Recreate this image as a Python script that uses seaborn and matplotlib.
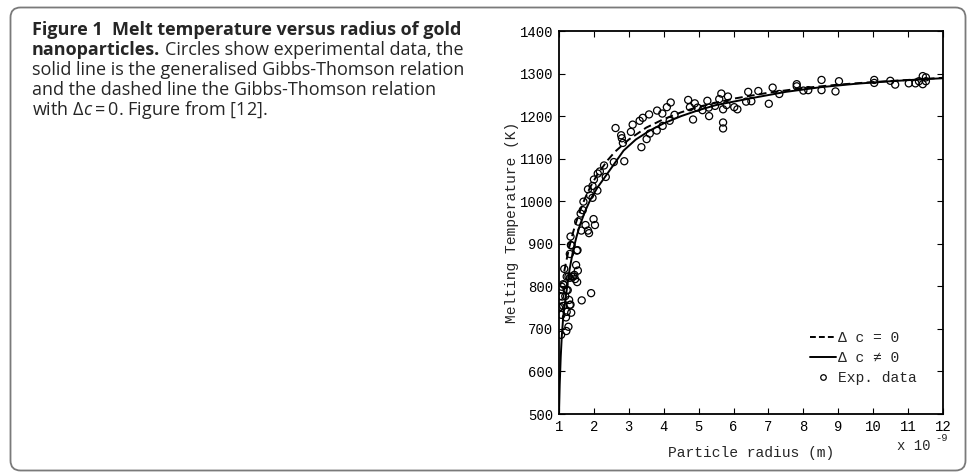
import numpy as np
import pandas as pd
import matplotlib
matplotlib.use("Agg")
import matplotlib.pyplot as plt
import seaborn as sns
from matplotlib.lines import Line2D
from matplotlib.patches import FancyBboxPatch
from matplotlib.transforms import IdentityTransform

# ---------------- data (radius in units of 1e-9 m, temperature in K) -------------
exp_radius = [1.00, 1.03, 1.04, 1.06, 1.07, 1.08, 1.09, 1.12, 1.12, 1.15, 1.15, 1.18, 1.20,
              1.21, 1.22, 1.22, 1.22, 1.25, 1.27, 1.27, 1.29, 1.31, 1.31, 1.31, 1.33, 1.33,
              1.34, 1.35, 1.36, 1.36, 1.41, 1.44, 1.46, 1.49, 1.51, 1.52, 1.53, 1.54, 1.55,
              1.62, 1.64, 1.65, 1.68, 1.70, 1.76, 1.83, 1.83, 1.86, 1.89, 1.92, 1.96, 1.96,
              1.99, 2.00, 2.03, 2.10, 2.11, 2.17, 2.29, 2.34, 2.57, 2.62, 2.78, 2.80, 2.83,
              2.87, 3.06, 3.11, 3.31, 3.36, 3.40, 3.51, 3.58, 3.60, 3.80, 3.81, 3.96, 3.97,
              4.09, 4.17, 4.20, 4.31, 4.70, 4.75, 4.84, 4.89, 4.97, 5.11, 5.25, 5.29, 5.30,
              5.47, 5.59, 5.65, 5.70, 5.70, 5.70, 5.80, 5.84, 6.02, 6.11, 6.36, 6.42, 6.51,
              6.71, 7.01, 7.12, 7.31, 7.81, 7.81, 8.00, 8.14, 8.52, 8.52, 8.92, 9.02, 10.03,
              10.03, 10.49, 10.63, 11.02, 11.21, 11.31, 11.42, 11.42, 11.51, 11.51]
exp_temp = [750, 777, 752, 686, 733, 799, 776, 805, 754, 841, 803, 777, 727,
            695, 740, 823, 791, 791, 705, 823, 768, 820, 876, 756, 917, 757,
            897, 738, 896, 823, 823, 827, 817, 850, 884, 810, 885, 837, 952,
            971, 931, 767, 979, 999, 944, 1028, 931, 925, 1014, 784, 1036, 1008,
            958, 1051, 944, 1025, 1065, 1070, 1084, 1057, 1092, 1172, 1155, 1148, 1137,
            1094, 1163, 1180, 1189, 1127, 1196, 1146, 1204, 1159, 1166, 1213, 1206, 1177,
            1221, 1189, 1232, 1203, 1238, 1221, 1192, 1230, 1220, 1214, 1236, 1220, 1200,
            1224, 1240, 1253, 1216, 1185, 1171, 1226, 1246, 1221, 1216, 1234, 1257, 1235,
            1259, 1229, 1267, 1252, 1275, 1270, 1260, 1261, 1285, 1261, 1258, 1282, 1285,
            1278, 1283, 1274, 1277, 1277, 1282, 1294, 1275, 1291, 1282]

# solid line: generalised Gibbs-Thomson (delta c != 0)
gen_radius = [1.00, 1.02, 1.05, 1.08, 1.12, 1.17, 1.22, 1.30, 1.40, 1.50, 1.60, 1.75,
              1.90, 2.10, 2.30, 2.55, 2.85, 3.20, 3.60, 4.00, 4.50, 5.00, 5.50, 6.50,
              7.50, 8.50, 9.50, 10.50, 11.50, 12.00]
gen_temp = [500, 568, 635, 683, 727, 762, 791, 838, 883, 916, 944, 977,
            1004, 1032, 1055, 1084, 1119, 1145, 1166, 1183, 1200, 1214, 1226, 1242,
            1257, 1268, 1276, 1282, 1287, 1289]

# dashed line: Gibbs-Thomson (delta c = 0)
gt_radius = [1.15, 1.20, 1.30, 1.40, 1.50, 1.60, 1.75, 1.90, 2.10, 2.40, 2.60, 3.00,
             3.50, 4.00, 4.50, 5.00, 6.00, 7.00, 8.00, 9.00, 10.00, 11.00, 12.00]
gt_temp = [835, 856, 894, 926, 953, 977, 1008, 1034, 1063, 1097, 1116, 1145,
           1173, 1193, 1209, 1222, 1241, 1255, 1266, 1274, 1280, 1285, 1290]

x_ticks = list(range(1, 13))
y_ticks = list(range(500, 1500, 100))

caption_bold_1 = "Figure 1  Melt temperature versus radius of gold"
caption_bold_2 = "nanoparticles."
caption_rest_2 = "Circles show experimental data, the"
caption_3 = "solid line is the generalised Gibbs-Thomson relation"
caption_4 = "and the dashed line the Gibbs-Thomson relation"
caption_5 = r"with $\Delta c = 0$. Figure from [12]."

# ---------------- styling ----------------
sns.set_theme(style="white")
mono = ["Liberation Mono", "DejaVu Sans Mono"]
cap_font = ["Open Sans", "DejaVu Sans"]
plt.rcParams["font.family"] = mono
plt.rcParams["mathtext.fontset"] = "custom"
plt.rcParams["mathtext.rm"] = "Open Sans"
plt.rcParams["mathtext.it"] = "Open Sans:italic"

W, H = 968, 473
fig = plt.figure(figsize=(W / 100, H / 100), dpi=100)
fig.patch.set_facecolor("white")

ax = fig.add_axes([559 / W, 1 - 414 / H, (943 - 559) / W, (414 - 31) / H])

df_exp = pd.DataFrame({"r": exp_radius, "T": exp_temp})
df_gen = pd.DataFrame({"r": gen_radius, "T": gen_temp})
df_gt = pd.DataFrame({"r": gt_radius, "T": gt_temp})

sns.lineplot(data=df_gt, x="r", y="T", ax=ax, color="black", lw=1.4,
             linestyle=(0, (4, 2.2)), estimator=None, sort=True)
sns.lineplot(data=df_gen, x="r", y="T", ax=ax, color="black", lw=1.4,
             estimator=None, sort=True)
sns.scatterplot(data=df_exp, x="r", y="T", ax=ax, marker="o", s=26,
                facecolor="none", edgecolor="black", linewidth=0.9, zorder=3)

ax.set_xlim(1, 12)
ax.set_ylim(500, 1400)
ax.set_xticks(x_ticks)
ax.set_yticks(y_ticks)
ax.set_xticklabels([str(v) for v in x_ticks], fontsize=10, family=mono)
ax.set_yticklabels([str(v) for v in y_ticks], fontsize=10, family=mono)
ax.tick_params(direction="in", length=4.5, width=0.8, top=True, right=True,
               bottom=True, left=True, colors="black", pad=4)
for sp in ax.spines.values():
    sp.set_visible(True)
    sp.set_color("black")
    sp.set_linewidth(1.3)

ax.set_xlabel("Particle radius (m)", fontsize=10.5, family=mono, labelpad=9)
ax.set_ylabel("Melting Temperature (K)", fontsize=10.5, family=mono, labelpad=0.5)

# multiplier text
fig.text(897 / W, 1 - 450 / H, "x 10", fontsize=10, family=mono, ha="left", va="baseline")
fig.text(935 / W, 1 - 441 / H, "-9", fontsize=7.5, family=mono, ha="left", va="baseline")

handles = [Line2D([], [], color="black", lw=1.4, linestyle=(0, (3, 1.6))),
           Line2D([], [], color="black", lw=1.4),
           Line2D([], [], color="black", lw=0, marker="o", markersize=4,
                  markerfacecolor="none", markeredgewidth=0.9)]
labels = ["\u0394 c = 0", "\u0394 c \u2260 0", "Exp. data"]
leg = ax.legend(handles, labels, loc="upper left",
                bbox_to_anchor=((810 - 559) / 384, (414 - 331) / 383),
                frameon=False, borderpad=0, borderaxespad=0, handlelength=1.75,
                handletextpad=0.15, labelspacing=0.42,
                prop={"family": mono, "size": 10.5})

# ---------------- caption ----------------
x0 = 32 / W
fs_cap = 13.0
fig.text(x0, 1 - 35 / H, caption_bold_1, fontsize=fs_cap, family=cap_font,
         weight="bold", va="baseline", ha="left")
tb = fig.text(x0, 1 - 55 / H, caption_bold_2, fontsize=fs_cap, family=cap_font,
              weight="bold", va="baseline", ha="left")
renderer = fig.canvas.get_renderer()
bb = tb.get_window_extent(renderer)
fig.text((bb.x1 + 5) / W, 1 - 55 / H, caption_rest_2, fontsize=fs_cap,
         family=cap_font, va="baseline", ha="left")
fig.text(x0, 1 - 75 / H, caption_3, fontsize=fs_cap, family=cap_font,
         va="baseline", ha="left")
fig.text(x0, 1 - 95 / H, caption_4, fontsize=fs_cap, family=cap_font,
         va="baseline", ha="left")
fig.text(x0, 1 - 115 / H, caption_5, fontsize=fs_cap, family=cap_font,
         va="baseline", ha="left")

# rounded frame
frame = FancyBboxPatch((10.5, 2.5), 955, 463, boxstyle="round,pad=0,rounding_size=10",
                       transform=IdentityTransform(), facecolor="none",
                       edgecolor="#7a7a7a", linewidth=1.3)
fig.patches.append(frame)

fig.savefig("out.png", dpi=100, facecolor="white")
